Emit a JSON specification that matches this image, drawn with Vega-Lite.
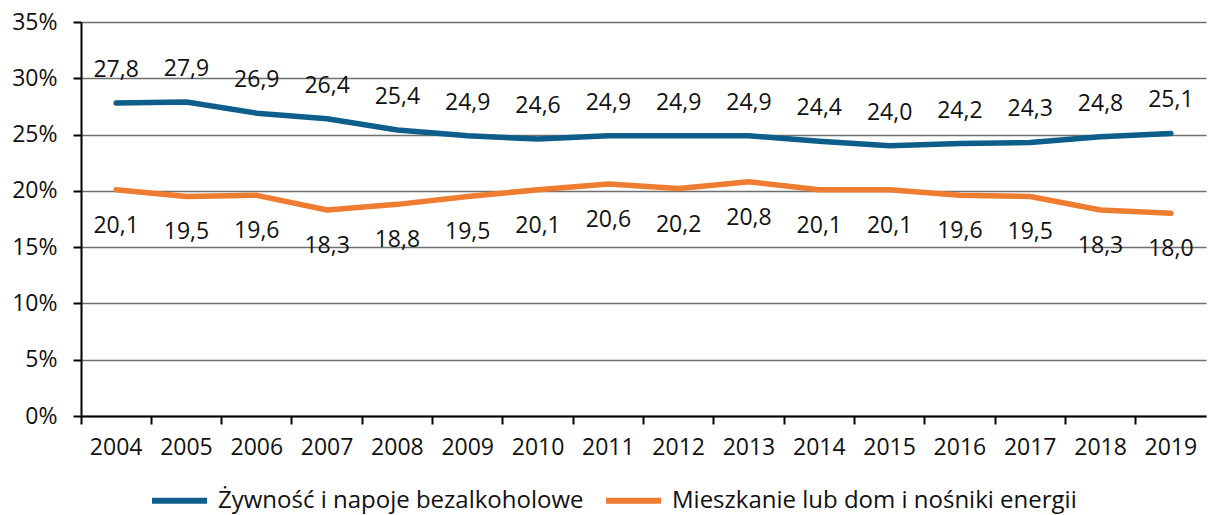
{
  "$schema": "https://vega.github.io/schema/vega-lite/v6.json",
  "width": 1125,
  "height": 394,
  "autosize": {"type": "none"},
  "padding": {"left": 81, "top": 22, "right": 2, "bottom": 99},
  "background": "white",
  "config": {
    "locale": {"number": {"decimal": ",", "thousands": " ", "grouping": [3], "currency": ["", " zł"]}},
    "view": {"stroke": null},
    "font": "Open Sans"
  },
  "data": {
    "values": [
      {"year": "2004", "series": "Żywność i napoje bezalkoholowe", "value": 27.8},
      {"year": "2005", "series": "Żywność i napoje bezalkoholowe", "value": 27.9},
      {"year": "2006", "series": "Żywność i napoje bezalkoholowe", "value": 26.9},
      {"year": "2007", "series": "Żywność i napoje bezalkoholowe", "value": 26.4},
      {"year": "2008", "series": "Żywność i napoje bezalkoholowe", "value": 25.4},
      {"year": "2009", "series": "Żywność i napoje bezalkoholowe", "value": 24.9},
      {"year": "2010", "series": "Żywność i napoje bezalkoholowe", "value": 24.6},
      {"year": "2011", "series": "Żywność i napoje bezalkoholowe", "value": 24.9},
      {"year": "2012", "series": "Żywność i napoje bezalkoholowe", "value": 24.9},
      {"year": "2013", "series": "Żywność i napoje bezalkoholowe", "value": 24.9},
      {"year": "2014", "series": "Żywność i napoje bezalkoholowe", "value": 24.4},
      {"year": "2015", "series": "Żywność i napoje bezalkoholowe", "value": 24.0},
      {"year": "2016", "series": "Żywność i napoje bezalkoholowe", "value": 24.2},
      {"year": "2017", "series": "Żywność i napoje bezalkoholowe", "value": 24.3},
      {"year": "2018", "series": "Żywność i napoje bezalkoholowe", "value": 24.8},
      {"year": "2019", "series": "Żywność i napoje bezalkoholowe", "value": 25.1},
      {"year": "2004", "series": "Mieszkanie lub dom i nośniki energii", "value": 20.1},
      {"year": "2005", "series": "Mieszkanie lub dom i nośniki energii", "value": 19.5},
      {"year": "2006", "series": "Mieszkanie lub dom i nośniki energii", "value": 19.6},
      {"year": "2007", "series": "Mieszkanie lub dom i nośniki energii", "value": 18.3},
      {"year": "2008", "series": "Mieszkanie lub dom i nośniki energii", "value": 18.8},
      {"year": "2009", "series": "Mieszkanie lub dom i nośniki energii", "value": 19.5},
      {"year": "2010", "series": "Mieszkanie lub dom i nośniki energii", "value": 20.1},
      {"year": "2011", "series": "Mieszkanie lub dom i nośniki energii", "value": 20.6},
      {"year": "2012", "series": "Mieszkanie lub dom i nośniki energii", "value": 20.2},
      {"year": "2013", "series": "Mieszkanie lub dom i nośniki energii", "value": 20.8},
      {"year": "2014", "series": "Mieszkanie lub dom i nośniki energii", "value": 20.1},
      {"year": "2015", "series": "Mieszkanie lub dom i nośniki energii", "value": 20.1},
      {"year": "2016", "series": "Mieszkanie lub dom i nośniki energii", "value": 19.6},
      {"year": "2017", "series": "Mieszkanie lub dom i nośniki energii", "value": 19.5},
      {"year": "2018", "series": "Mieszkanie lub dom i nośniki energii", "value": 18.3},
      {"year": "2019", "series": "Mieszkanie lub dom i nośniki energii", "value": 18.0}
    ]
  },
  "encoding": {
    "x": {
      "field": "year", "type": "ordinal",
      "scale": {"type": "band", "paddingInner": 0, "paddingOuter": 0},
      "axis": {
        "title": null, "labelAngle": 0, "bandPosition": 0,
        "domainColor": "#000000", "domainWidth": 2,
        "tickColor": "#000000", "tickWidth": 2, "tickSize": 8,
        "labelFont": "Open Sans", "labelFontSize": 23, "labelColor": "#111111",
        "labelPadding": 12, "grid": false, "labelBound": false, "labelOverlap": false
      }
    },
    "y": {
      "field": "value", "type": "quantitative",
      "scale": {"domain": [0, 35], "nice": false, "zero": true},
      "axis": {
        "title": null, "values": [0, 5, 10, 15, 20, 25, 30, 35],
        "labelExpr": "datum.value + '%'",
        "domainColor": "#000000", "domainWidth": 2,
        "tickColor": "#000000", "tickWidth": 2, "tickSize": 8,
        "grid": true, "gridColor": "#6f6f6f", "gridWidth": 1.5,
        "labelFont": "Open Sans", "labelFontSize": 23, "labelColor": "#111111",
        "labelPadding": 16
      }
    }
  },
  "layer": [
    {
      "mark": {"type": "line", "strokeWidth": 5.5, "strokeCap": "round", "strokeJoin": "round"},
      "encoding": {
        "color": {
          "field": "series", "type": "nominal",
          "scale": {
            "domain": ["Żywność i napoje bezalkoholowe", "Mieszkanie lub dom i nośniki energii"],
            "range": ["#0d5e8b", "#ee7d31"]
          },
          "legend": {
            "title": null, "orient": "none", "direction": "horizontal",
            "legendX": 68, "legendY": 448,
            "symbolType": "stroke", "symbolSize": 3025, "symbolStrokeWidth": 6,
            "labelFont": "Open Sans", "labelFontSize": 24, "labelColor": "#111111",
            "labelOffset": 8, "columnPadding": 10, "labelLimit": 600,
            "labelBaseline": "middle", "symbolOffset": 0, "padding": 0, "offset": 0
          }
        }
      }
    },
    {
      "transform": [{"filter": "datum.series === 'Żywność i napoje bezalkoholowe'"}],
      "mark": {"type": "text", "dy": -33, "fontSize": 23, "font": "Open Sans", "color": "#111111"},
      "encoding": {"text": {"field": "value", "type": "quantitative", "format": ".1f"}}
    },
    {
      "transform": [{"filter": "datum.series === 'Mieszkanie lub dom i nośniki energii'"}],
      "mark": {"type": "text", "dy": 36, "fontSize": 23, "font": "Open Sans", "color": "#111111"},
      "encoding": {"text": {"field": "value", "type": "quantitative", "format": ".1f"}}
    }
  ]
}
